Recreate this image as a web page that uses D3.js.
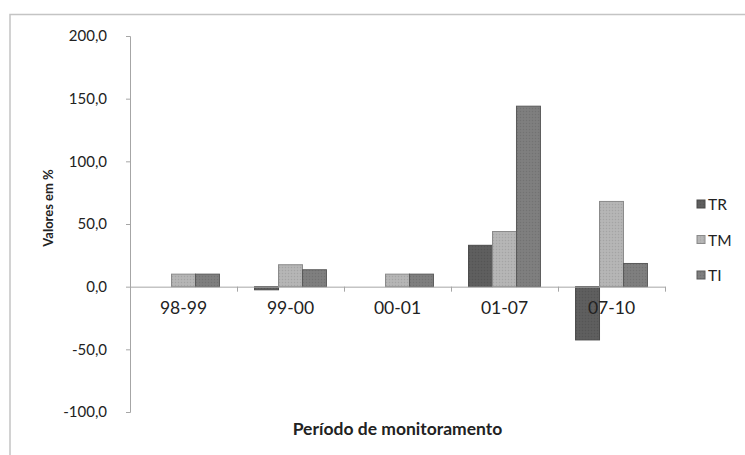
<!DOCTYPE html>
<html>
<head>
<meta charset="utf-8">
<script src="https://cdn.jsdelivr.net/npm/d3@7/dist/d3.min.js"></script>
<style>
  html, body { margin: 0; padding: 0; background: #fff; }
  svg { display: block; }
  text { font-family: Lato, "Open Sans", sans-serif; fill: #222; }
</style>
</head>
<body>
<svg id="chart" width="745" height="455"></svg>
<script>
// Monitoring periods and rates (%) per series
const periods = ["98-99", "99-00", "00-01", "01-07", "07-10"];
const seriesNames = ["TR", "TM", "TI"];
const valuesTR = [null, -2.5, null, 33, -42.5];
const valuesTM = [10, 17.5, 10, 44, 68];
const valuesTI = [10, 13.5, 10, 144, 18.5];
const yTicks = [-100, -50, 0, 50, 100, 150, 200];

const seriesValues = { TR: valuesTR, TM: valuesTM, TI: valuesTI };
const fills = { TR: "#5d5d5d", TM: "#b3b3b3", TI: "#7d7d7d" };
const strokes = { TR: "#4a4a4a", TM: "#8a8a8a", TI: "#5a5a5a" };

const svg = d3.select("#chart");

// outer chart frame
svg.append("rect")
  .attr("x", 10).attr("y", 14.5)
  .attr("width", 800).attr("height", 500)
  .attr("fill", "none").attr("stroke", "#c4c4c4").attr("stroke-width", 1.5);

// subtle grain in the bar fills
const defs = svg.append("defs");
seriesNames.forEach(s => {
  const p = defs.append("pattern")
    .attr("id", "pat-" + s).attr("patternUnits", "userSpaceOnUse")
    .attr("width", 3).attr("height", 3);
  p.append("rect").attr("width", 3).attr("height", 3).attr("fill", fills[s]);
  p.append("rect").attr("x", 0).attr("y", 0).attr("width", 1).attr("height", 1)
    .attr("fill", d3.color(fills[s]).darker(0.25));
  p.append("rect").attr("x", 1.5).attr("y", 1.5).attr("width", 1).attr("height", 1)
    .attr("fill", d3.color(fills[s]).brighter(0.2));
});

const plotLeft = 130, plotRight = 665, plotTop = 36, plotBottom = 412;

const y = d3.scaleLinear().domain([-100, 200]).range([plotBottom, plotTop]);
const x0 = d3.scaleBand().domain(periods).range([plotLeft, plotRight]).padding(0);
const bw = x0.bandwidth();
const x1 = d3.scaleBand().domain(seriesNames).range([bw * 0.164, bw * 0.836]).padding(0);

// y axis: one decimal, comma separator, plain hyphen for negatives
const fmt = d => d.toFixed(1).replace(".", ",");
const yAxis = d3.axisLeft(y).tickValues(yTicks).tickSize(4).tickPadding(19).tickFormat(fmt);
const gy = svg.append("g").attr("transform", `translate(${plotLeft},0)`).call(yAxis);
gy.select(".domain").attr("stroke", "#a6a6a6");
gy.selectAll(".tick line").attr("stroke", "#a6a6a6");
gy.selectAll("text").attr("font-size", 15).attr("fill", "#222");

// bars
const groups = svg.append("g").selectAll("g")
  .data(periods).join("g")
  .attr("transform", d => `translate(${x0(d)},0)`);

groups.selectAll("rect")
  .data((p, i) => seriesNames
    .map(s => ({ s, v: seriesValues[s][i] }))
    .filter(d => d.v !== null))
  .join("rect")
  .attr("x", d => x1(d.s))
  .attr("width", x1.bandwidth())
  .attr("y", d => y(Math.max(0, d.v)))
  .attr("height", d => Math.abs(y(d.v) - y(0)))
  .attr("fill", d => `url(#pat-${d.s})`)
  .attr("stroke", d => strokes[d.s])
  .attr("stroke-width", 1);

// category axis along the zero line
const xAxis = d3.axisBottom(x0).tickSize(0).tickPadding(15);
const gx = svg.append("g").attr("transform", `translate(0,${y(0)})`).call(xAxis);
gx.select(".domain").attr("stroke", "#a6a6a6");
gx.selectAll("text").attr("font-size", 17.5).attr("fill", "#222");
// boundary tick marks between periods
gx.selectAll(".sep").data(periods.slice(1).concat(["end"])).join("line")
  .attr("class", "sep")
  .attr("x1", (d, i) => Math.round(plotLeft + bw * (i + 1)) + 0.5)
  .attr("x2", (d, i) => Math.round(plotLeft + bw * (i + 1)) + 0.5)
  .attr("y1", 0).attr("y2", 5)
  .attr("stroke", "#a6a6a6");

// axis titles
svg.append("text")
  .attr("transform", "translate(48,208) rotate(-90)")
  .attr("text-anchor", "middle").attr("dominant-baseline", "central")
  .attr("font-size", 13).attr("font-weight", "bold")
  .text("Valores em %");

svg.append("text")
  .attr("x", (plotLeft + plotRight) / 2).attr("y", 428)
  .attr("text-anchor", "middle").attr("dominant-baseline", "central")
  .attr("font-size", 17.5).attr("font-weight", "bold")
  .text("Período de monitoramento");

// legend
const legend = svg.append("g").selectAll("g")
  .data(seriesNames).join("g")
  .attr("transform", (d, i) => `translate(697,${204 + i * 35.5})`);
legend.append("rect")
  .attr("x", 0).attr("y", -4).attr("width", 8).attr("height", 8)
  .attr("fill", d => `url(#pat-${d})`).attr("stroke", d => strokes[d]);
legend.append("text")
  .attr("x", 11).attr("y", 0).attr("dominant-baseline", "central")
  .attr("font-size", 15.5)
  .text(d => d);
</script>
</body>
</html>
